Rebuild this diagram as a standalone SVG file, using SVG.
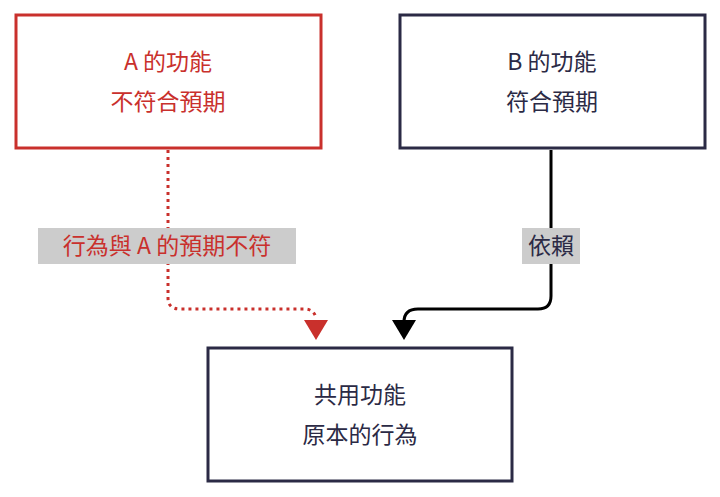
<svg xmlns="http://www.w3.org/2000/svg" width="720" height="497" viewBox="0 0 720 497">
<style>
text{font-family:"Noto Sans CJK TC","Noto Sans CJK SC",sans-serif;font-size:23px;text-anchor:middle}
.box{fill:#fff;stroke-width:3}
</style>
<rect width="720" height="497" fill="#fff"/>
<g id="connectors">
<path d="M168,150 V298 Q168,309 180,309 H304 Q314,309 316,318" fill="none" stroke="#c9302c" stroke-width="3" stroke-dasharray="3,4"/>
<polygon points="304,320 328,320 316,340" fill="#c9302c"/>
<path d="M551,150 V296 Q551,309 538,309 H418 Q404,309 404,322" fill="none" stroke="#000" stroke-width="3"/>
<polygon points="392,320 416,320 404,340" fill="#000"/>
<rect x="38" y="228" width="258" height="36" fill="#ccc"/>
<text x="167" y="254" fill="#c9302c">行為與 A 的預期不符</text>
<rect x="522" y="228" width="58" height="36" fill="#ccc"/>
<text x="551" y="254" fill="#2b2a45">依賴</text>
</g>
<g id="A">
<rect class="box" x="16" y="15" width="305" height="133" stroke="#c9302c"/>
<text x="168" y="70" fill="#c9302c">A 的功能</text>
<text x="168" y="110" fill="#c9302c">不符合預期</text>
</g>
<g id="B">
<rect class="box" x="400" y="15" width="305" height="133" stroke="#2b2a45"/>
<text x="552" y="70" fill="#2b2a45">B 的功能</text>
<text x="552" y="110" fill="#2b2a45">符合預期</text>
</g>
<g id="C">
<rect class="box" x="208" y="348" width="304" height="133" stroke="#2b2a45"/>
<text x="360" y="403" fill="#2b2a45">共用功能</text>
<text x="360" y="443" fill="#2b2a45">原本的行為</text>
</g>
</svg>
